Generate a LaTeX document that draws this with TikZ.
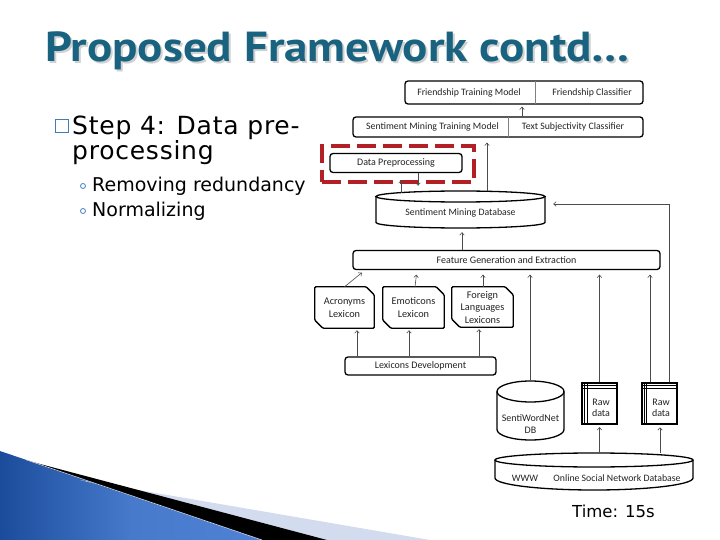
\documentclass[tikz,border=0pt]{standalone}
\usepackage{fontspec}
\setmainfont{DejaVu Sans}
\newfontfamily\diagfont{Carlito}
\newfontfamily\titlefont[FakeStretch=1.12]{PT Sans}
\newfontfamily\stepfont[LetterSpace=3]{DejaVu Sans}
\usetikzlibrary{arrows.meta,calc}
\definecolor{titleblue}{HTML}{1A6380}
\definecolor{bulletblue}{HTML}{3F7CBE}
\definecolor{redbox}{HTML}{B21F24}
\definecolor{bandlight}{HTML}{D3DBEF}
\definecolor{bluedark}{HTML}{1B4C9C}
\definecolor{bluelight}{HTML}{4F82D4}
\definecolor{diagtext}{HTML}{222222}
\begin{document}
\begin{tikzpicture}[x=1pt,y=-1pt,
  box/.style={draw=black, line width=1.3pt, rounded corners=3pt, inner sep=0pt,
    font=\diagfont\fontsize{10}{11}\selectfont, text=diagtext},
  area/.style={inner sep=0pt},
  lbl/.style={inner sep=0pt, font=\diagfont\fontsize{9.8}{11}\selectfont, text=diagtext, align=center},
  biglbl/.style={inner sep=0pt, font=\diagfont\fontsize{10.3}{12.5}\selectfont, text=diagtext, align=center},
  shapeline/.style={draw=black, line width=1.3pt},
  arr/.style={-{Straight Barb[length=2.5pt,width=4.5pt]}, line width=0.6pt, draw=black!70},
  divider/.style={draw=black!50, line width=0.6pt},
  fileline/.style={draw=black, line width=0.8pt}
]
\useasboundingbox (0,0) rectangle (720,540);

% bottom-left decoration
\shade[left color=bluedark, right color=bluelight, middle color=bluelight!85!bluedark]
  (0,451) -- (262,540) -- (0,540) -- cycle;
\fill[bandlight] (80,480) -- (430,540) -- (327,540) -- cycle;
\fill[black] (25,460) -- (327,540) -- (262,540) -- cycle;
\draw[bluelight!40!white, line width=0.7pt] (25,459.5) -- (262,540);

% title
\node[anchor=base west, inner sep=0pt, font=\titlefont\bfseries\fontsize{42}{42}\selectfont, text=black!18] (titleshadow) at (47,64) {Proposed Framework contd…};
\node[anchor=base west, inner sep=0pt, font=\titlefont\bfseries\fontsize{42}{42}\selectfont, text=titleblue] (title) at (45,62) {Proposed Framework contd…};

% bullet text
\node[draw=bulletblue, line width=1pt, minimum size=13pt, inner sep=0pt] (sq) at (61.5,126.5) {};
\node[anchor=base west, inner sep=0pt, font=\stepfont\fontsize{25}{28}\selectfont] (step1) at (72,135) {Step 4: Data pre-};
\node[anchor=base west, inner sep=0pt, font=\stepfont\fontsize{25}{28}\selectfont] (step2) at (72,160) {processing};
\node[circle, draw=bulletblue, line width=0.8pt, minimum size=5pt, inner sep=0pt] (b1) at (83,186) {};
\node[circle, draw=bulletblue, line width=0.8pt, minimum size=5pt, inner sep=0pt] (b2) at (83,211) {};
\node[anchor=base west, inner sep=0pt, font=\fontsize{19}{22}\selectfont] (sub1) at (92,192) {Removing redundancy};
\node[anchor=base west, inner sep=0pt, font=\fontsize{19}{22}\selectfont] (sub2) at (92,217) {Normalizing};

% top boxes
\node[box, minimum width=238pt, minimum height=23pt] (fr) at (524,92.5) {};
\draw[divider] (535,81) -- (535,104);
\node[lbl] (frt1) at (469,92.5) {Friendship Training Model};
\node[lbl] (frt2) at (592,92.5) {Friendship Classifier};

\node[box, minimum width=290pt, minimum height=20pt] (sm) at (498,127) {};
\draw[divider] (508,117) -- (508,137);
\node[lbl] (smt1) at (432.5,127) {Sentiment Mining Training Model};
\node[lbl] (smt2) at (573,127) {Text Subjectivity Classifier};

\node[box, minimum width=132pt, minimum height=19pt] (dp) at (396,163) {Data Preprocessing};

% sentiment mining database (cylinder)
\node[area, minimum width=169pt, minimum height=37pt] (smdb) at (460.5,209.5) {};
\draw[shapeline] (376,196.5) -- (376,222.5) arc[start angle=180, end angle=360, x radius=84.5pt, y radius=5.5pt] -- (545,196.5);
\draw[shapeline] (460.5,196.5) ellipse[x radius=84.5pt, y radius=5.5pt];
\node[lbl] (smdbt) at (460.5,212.5) {Sentiment Mining Database};

\node[box, minimum width=307pt, minimum height=19pt] (fg) at (506.5,260) {Feature Generation and Extraction};

% lexicons
\node[area, minimum width=59pt, minimum height=41pt, biglbl] (acr) at (344.5,307.5) {Acronyms\\Lexicon};
\node[area, minimum width=61pt, minimum height=41pt, biglbl] (emo) at (413.5,307.5) {Emoticons\\Lexicon};
\node[area, minimum width=61pt, minimum height=40pt, biglbl] (for) at (482.5,307) {Foreign\\Languages\\Lexicons};
\foreach \n in {acr,emo,for}{
  \draw[shapeline, rounded corners=1pt] (\n.north west) -- ([xshift=-8pt]\n.north east) -- ([yshift=-8pt]\n.north east)
    -- (\n.south east) -- ([xshift=8pt]\n.south west) -- ([yshift=8pt]\n.south west) -- cycle;
}

\node[box, minimum width=151pt, minimum height=18pt] (ld) at (420.5,366) {Lexicons Development};

% SentiWordNet DB
\node[area, minimum width=67pt, minimum height=59pt] (swn) at (530.5,410.5) {};
\draw[shapeline] (497,391.5) -- (497,429.5) arc[start angle=180, end angle=360, x radius=33.5pt, y radius=10.5pt] -- (564,391.5);
\draw[shapeline] (530.5,391.5) ellipse[x radius=33.5pt, y radius=10.5pt];
\node[lbl, font=\diagfont\fontsize{10}{12.5}\selectfont] (swnt) at (530.5,424) {SentiWordNet\\DB};

% raw data files
\node[draw=black, line width=1.2pt, minimum width=35pt, minimum height=41pt, inner sep=0pt] (raw1) at (599.5,403.5) {};
\node[draw=black, line width=1.5pt, minimum width=35pt, minimum height=41pt, inner sep=0pt] (raw2) at (659.5,403.5) {};
\foreach \n in {raw1,raw2}{
  \draw[fileline] ([yshift=-3pt]\n.north west) -- ([yshift=-3pt]\n.north east);
  \draw[fileline] ([yshift=-6pt]\n.north west) -- ([yshift=-6pt]\n.north east);
  \draw[fileline] ([xshift=3pt]\n.north west) -- ([xshift=3pt]\n.south west);
  \draw[fileline] ([xshift=5.5pt]\n.north west) -- ([xshift=5.5pt]\n.south west);
}
\node[lbl, font=\diagfont\fontsize{10}{11.5}\selectfont] (raw1t) at (601,408) {Raw\\data};
\node[lbl, font=\diagfont\fontsize{10}{11.5}\selectfont] (raw2t) at (661,408) {Raw\\data};

% online social network database
\node[area, minimum width=198pt, minimum height=37pt] (osn) at (594,471.5) {};
\draw[shapeline] (495,460) -- (495,478) arc[start angle=180, end angle=360, x radius=99pt, y radius=12pt] -- (693,460);
\draw[shapeline] (594,460) ellipse[x radius=99pt, y radius=7pt];
\node[lbl] (www) at (525,478) {WWW};
\node[lbl] (osnt) at (617,478) {Online Social Network Database};

% highlight box
\node[draw=redbox, line width=4pt, dash pattern=on 19pt off 7pt, minimum width=152pt, minimum height=36pt, inner sep=0pt] (hl) at (398,164) {};

% connectors
\draw[arr, shorten >=2pt] ([xshift=24pt]sm.north) -- ([xshift=-2pt]fr.south);
\draw[arr, shorten >=5pt] ([xshift=26.5pt]smdb.north) -- ([xshift=-11pt]sm.south);
\draw[arr, shorten >=7pt] ([xshift=-59.5pt,yshift=-2pt]smdb.north) -- ([xshift=5pt]dp.south);
\draw[arr, shorten >=5pt] ([xshift=22pt]dp.south) -- ([xshift=-42.5pt]smdb.north);
\draw[arr, shorten >=4pt] ([xshift=-44.5pt]fg.north) -- ([xshift=1.5pt]smdb.south);
\draw[arr, shorten >=4pt] (acr.north) -- ([xshift=-141.5pt]fg.south);
\draw[arr, shorten >=4.5pt] ([xshift=1.5pt]emo.north) -- ([xshift=-89.5pt]fg.south);
\draw[arr, shorten >=4.5pt] ([xshift=0.5pt]for.north) -- ([xshift=-23.5pt]fg.south);
\draw[arr, shorten >=4.5pt] ([xshift=-0.5pt]swn.north) -- ([xshift=23.5pt]fg.south);
\draw[arr, shorten >=4.5pt] (raw1.north) -- ([xshift=93pt]fg.south);
\draw[arr, shorten >=4.5pt] ([xshift=-9.5pt]raw2.north) -- ([xshift=143.5pt]fg.south);
\draw[arr] ([xshift=9.5pt]raw2.north) |- ([xshift=8pt,yshift=5.5pt]smdb.east);
\draw[arr, shorten >=2pt] ([xshift=-63.5pt]ld.north) -- ([xshift=12.5pt]acr.south);
\draw[arr, shorten >=2pt] ([xshift=-11.5pt]ld.north) -- ([xshift=-4.5pt]emo.south);
\draw[arr, shorten >=2pt] ([xshift=58.5pt]ld.north) -- ([xshift=-3.5pt]for.south);
\draw[arr, shorten >=2.5pt] ([xshift=5.5pt]osn.north) -- (raw1.south);
\draw[arr, shorten >=2.5pt] ([xshift=66pt]osn.north) -- ([xshift=0.5pt]raw2.south);

% time
\node[anchor=base west, inner sep=0pt, font=\fontsize{16.5}{20}\selectfont] (time) at (572,517) {Time: 15s};
\end{tikzpicture}
\end{document}
